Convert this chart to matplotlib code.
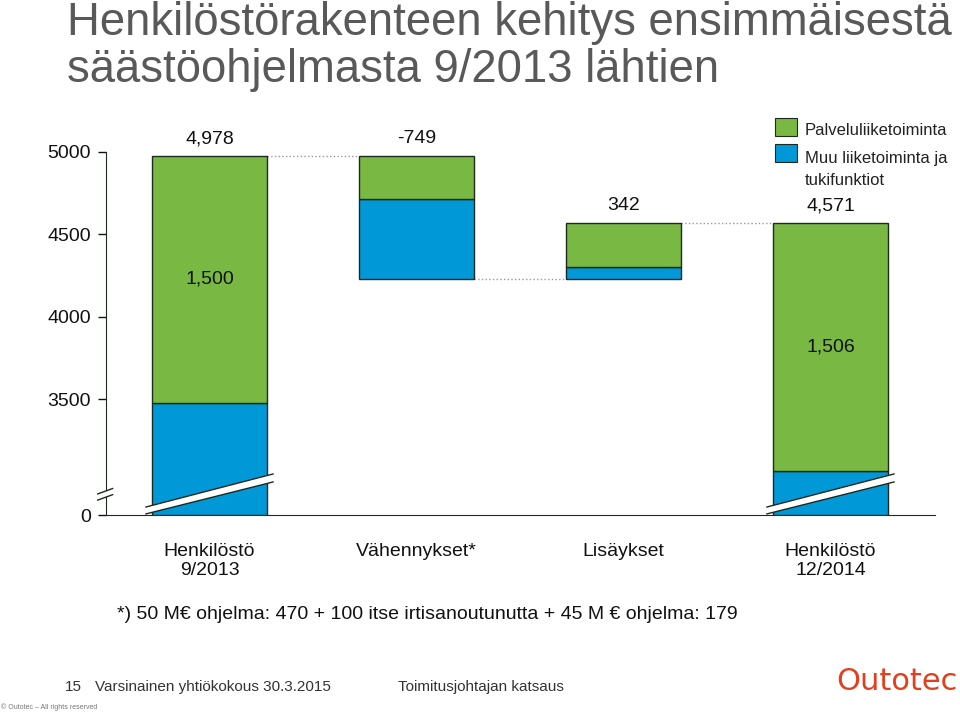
"""
Henkilöstörakenteen waterfall-kaavio katkaistulla y-akselilla
"""
import numpy as np
import matplotlib
matplotlib.use('Agg')
import matplotlib.pyplot as plt
from matplotlib.patches import Rectangle, Polygon
import matplotlib.transforms as mtransforms

plt.rcParams['font.family'] = ['Liberation Sans', 'DejaVu Sans']

# data
categories = ['Henkilöstö\n9/2013', 'Vähennykset*', 'Lisäykset', 'Henkilöstö\n12/2014']
value_labels = ['4,978', '-749', '342', '4,571']
blue_vals = [3478, 485, 72, 3065]     # Muu liiketoiminta ja tukifunktiot
green_vals = [1500, 264, 270, 1506]   # Palveluliiketoiminta
green_labels = ['1,500', '', '', '1,506']
start_total = 4978
reduction = 749
addition = 342
yticks = [0, 3500, 4000, 4500, 5000]

GREEN = '#78B843'
BLUE = '#0098D6'
EDGE = '#1e2a1e'
TEXT = '#111111'

# katkaistu asteikko: 0..BREAK puristetaan pohjalle
BREAK = 2950
ZERO_POS = 2796


def fwd(v):
    v = np.asarray(v, dtype=float)
    return np.where(v >= BREAK, v, ZERO_POS + v * (BREAK - ZERO_POS) / BREAK)


def inv(y):
    y = np.asarray(y, dtype=float)
    return np.where(y >= BREAK, y, (y - ZERO_POS) * BREAK / (BREAK - ZERO_POS))


fig = plt.figure(figsize=(9.6, 7.12), dpi=100)
ax = fig.add_axes([106 / 960, 1 - 515 / 712, 829 / 960, 363 / 712])
ax.set_yscale('function', functions=(fwd, inv))

x = np.arange(len(categories))
w = 0.555
low = start_total - reduction
bases = [0, low, low, 0]
blue_bottom = np.array(bases, dtype=float)
# vihreä osa sinisen päällä
green_bottom = blue_bottom + np.array(blue_vals)

ax.bar(x, blue_vals, w, bottom=blue_bottom, color=BLUE, edgecolor=EDGE, linewidth=1.0, zorder=3)
ax.bar(x, green_vals, w, bottom=green_bottom, color=GREEN, edgecolor=EDGE, linewidth=1.0, zorder=3)

tops = green_bottom + np.array(green_vals)

# yhdysviivat
conn = [(0, 1, start_total), (1, 2, low), (2, 3, low + addition)]
for a, b, yv in conn:
    ax.plot([a + w / 2, b - w / 2], [yv, yv], color='#9a9a9a', linestyle=':', linewidth=1.0, zorder=2)

# arvot palkkien yläpuolella
for i, lab in enumerate(value_labels):
    top = start_total if i == 1 else tops[i]
    ax.annotate(lab, (x[i], top), xytext=(0, 6), textcoords='offset points',
                ha='center', va='bottom', fontsize=14, color=TEXT, annotation_clip=False)

# vihreän osan arvot
for i, lab in enumerate(green_labels):
    if lab:
        ax.text(x[i], green_bottom[i] + green_vals[i] / 2, lab, ha='center', va='center',
                fontsize=14, color=TEXT, zorder=4)

# katkaisuraidat palkeissa
blend = mtransforms.blended_transform_factory(ax.transData, ax.transAxes)
hw = 0.307
for i in (0, 3):
    c = x[i]
    poly = Polygon([(c - hw, 0.003), (c + hw, 0.091), (c + hw, 0.113), (c - hw, 0.022)],
                   closed=True, facecolor='white', edgecolor='none', transform=blend,
                   zorder=5, clip_on=False)
    ax.add_patch(poly)
    ax.plot([c - hw, c + hw], [0.003, 0.091], color=EDGE, linewidth=1.0, transform=blend, zorder=6, clip_on=False)
    ax.plot([c - hw, c + hw], [0.022, 0.113], color=EDGE, linewidth=1.0, transform=blend, zorder=6, clip_on=False)

# akselin katkaisu
gap = Polygon([(-0.012, 0.041), (0.010, 0.056), (0.010, 0.072), (-0.012, 0.058)], closed=True,
              facecolor='white', edgecolor='none', transform=ax.transAxes, zorder=5, clip_on=False)
ax.add_patch(gap)
for y0, y1 in [(0.041, 0.056), (0.058, 0.073)]:
    ax.plot([-0.010, 0.008], [y0, y1], color=EDGE, linewidth=1.0, transform=ax.transAxes,
            zorder=6, clip_on=False)

ax.set_xlim(-0.5, 3.505)
ax.set_ylim(0, 5000)
ax.set_yticks(yticks)
ax.set_yticklabels([str(t) for t in yticks])
ax.tick_params(axis='y', direction='out', length=6, width=1, labelsize=14, pad=5, colors=TEXT)
ax.set_xticks(x)
ax.set_xticklabels(categories, fontsize=14, color=TEXT)
ax.tick_params(axis='x', length=0, pad=20)
ax.yaxis.set_minor_locator(plt.NullLocator())
for s in ('top', 'right'):
    ax.spines[s].set_visible(False)
ax.spines['left'].set_color(EDGE)
ax.spines['bottom'].set_color(EDGE)
ax.set_facecolor('none')

# selite
fig.patches.append(Rectangle((775 / 960, 1 - 136 / 712), 22 / 960, 18 / 712, transform=fig.transFigure,
                             facecolor=GREEN, edgecolor=EDGE, linewidth=0.8))
fig.patches.append(Rectangle((775 / 960, 1 - 162 / 712), 22 / 960, 18 / 712, transform=fig.transFigure,
                             facecolor=BLUE, edgecolor=EDGE, linewidth=0.8))
fig.text(805 / 960, 1 - 135 / 712, 'Palveluliiketoiminta', fontsize=12, color='#222222', va='baseline')
fig.text(805 / 960, 1 - 163 / 712, 'Muu liiketoiminta ja', fontsize=12, color='#222222', va='baseline')
fig.text(805 / 960, 1 - 185 / 712, 'tukifunktiot', fontsize=12, color='#222222', va='baseline')

# otsikko
fig.text(67 / 960, 1 - 35 / 712, 'Henkilöstörakenteen kehitys ensimmäisestä', fontsize=32.8,
         color='#595959', va='baseline')
fig.text(67 / 960, 1 - 82 / 712, 'säästöohjelmasta 9/2013 lähtien', fontsize=32.8,
         color='#595959', va='baseline')

# alaviite
fig.text(117 / 960, 1 - 619 / 712,
         '*) 50 M€ ohjelma: 470 + 100 itse irtisanoutunutta + 45 M € ohjelma: 179',
         fontsize=14, color=TEXT, va='baseline')

# alatunniste
fig.text(65 / 960, 1 - 691 / 712, '15', fontsize=11, color='#333333', va='baseline')
fig.text(95 / 960, 1 - 691 / 712, 'Varsinainen yhtiökokous 30.3.2015', fontsize=11,
         color='#333333', va='baseline')
fig.text(398 / 960, 1 - 691 / 712, 'Toimitusjohtajan katsaus', fontsize=11,
         color='#333333', va='baseline')
fig.text(1 / 960, 1 - 709 / 712, '© Outotec – All rights reserved', fontsize=5,
         color='#777777', va='baseline')
fig.text(836 / 960, 1 - 690 / 712, 'Outotec', fontsize=22, color='#E2401C', va='baseline',
         family=['DejaVu Sans'])

fig.savefig('out.png', dpi=100)
